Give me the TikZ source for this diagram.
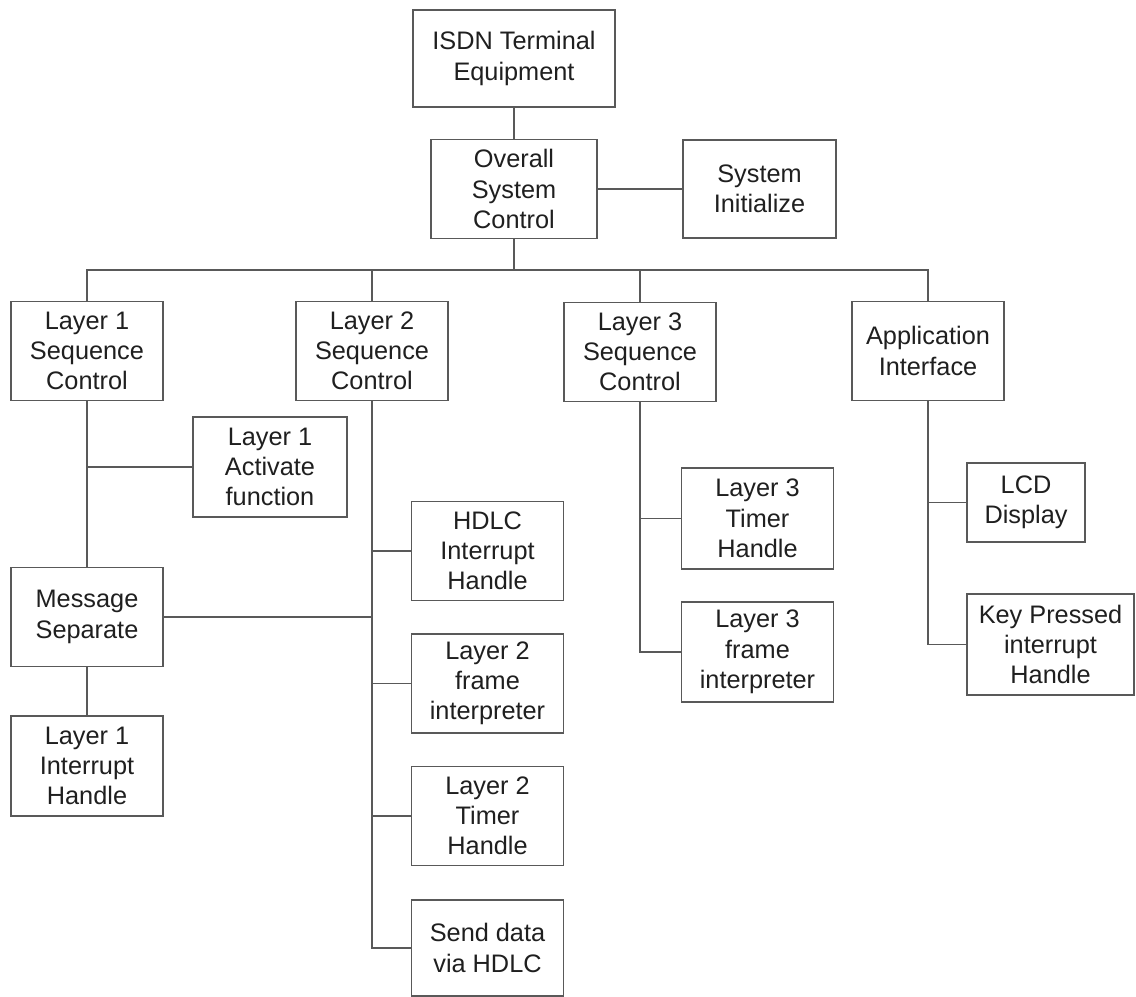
\documentclass[tikz,border=0pt]{standalone}
\usepackage{fontspec}
\setmainfont{Liberation Sans}
\usepackage{tikz}
\usetikzlibrary{positioning}

\tikzset{
  blk/.style={draw=black!65, line width=0.9pt, text=black!88, align=center,
    inner sep=0pt, minimum width=3.8cm, minimum height=2.48cm,
    font=\fontsize{18}{21.5}\selectfont},
  wire/.style={draw=black!65, line width=0.9pt}
}

\begin{document}
\begin{tikzpicture}[x=0.025cm, y=-0.025cm]
  \useasboundingbox (0,0) rectangle (1136,997);

  % top of the tree
  \node[blk, minimum width=5.05cm, minimum height=2.425cm] (isdn) at (514,58.5) {ISDN Terminal\\Equipment};
  \node[blk, minimum width=4.15cm] (overall) at (514,189) {Overall\\System\\Control};
  \node[blk, minimum width=3.825cm, minimum height=2.45cm] (sysinit) at (759.5,189) {System\\Initialize};
  \coordinate (bus) at (0,270);

  % sequence controls
  \node[blk] (l1seq) at (87,351) {Layer 1\\Sequence\\Control};
  \node[blk] (l2seq) at (372,351) {Layer 2\\Sequence\\Control};
  \node[blk] (l3seq) at (640,352) {Layer 3\\Sequence\\Control};
  \node[blk] (app) at (928,351) {Application\\Interface};

  % layer 1 branch
  \node[blk, minimum width=3.85cm, minimum height=2.5cm] (l1act) at (270,467) {Layer 1\\Activate\\function};
  \node[blk] (msgsep) at (87,617) {Message\\Separate};
  \node[blk, minimum height=2.5cm] (l1irq) at (87,766) {Layer 1\\Interrupt\\Handle};

  % layer 2 branch
  \node[blk] (hdlc) at (487.5,551) {HDLC\\Interrupt\\Handle};
  \node[blk] (l2frame) at (487.5,683.5) {Layer 2\\frame\\interpreter};
  \node[blk] (l2timer) at (487.5,816) {Layer 2\\Timer\\Handle};
  \node[blk, minimum height=2.4cm] (senddata) at (487.5,948) {Send data\\via HDLC};

  % layer 3 branch
  \node[blk, minimum height=2.525cm] (l3timer) at (757.5,518.5) {Layer 3\\Timer\\Handle};
  \node[blk, minimum height=2.5cm] (l3frame) at (757.5,652) {Layer 3\\frame\\interpreter};

  % application branch
  \node[blk, minimum width=2.95cm, minimum height=1.975cm] (lcd) at (1026,502.5) {LCD\\Display};
  \node[blk, minimum width=4.175cm, minimum height=2.525cm] (keyp) at (1050.5,644.5) {Key Pressed\\interrupt\\Handle};

  % connectors
  \draw[wire] (isdn) -- (overall);
  \draw[wire] (overall) -- (sysinit);
  \draw[wire] (overall.south) -- (overall.south |- bus);
  \draw[wire] (l1seq.north) -- (l1seq.north |- bus) -- (app.north |- bus) -- (app.north);
  \foreach \n in {l2seq,l3seq} {
    \draw[wire] (\n.north) -- (\n.north |- bus);
  }

  \draw[wire] (l1seq) -- (msgsep);
  \draw[wire] (msgsep) -- (l1irq);
  \draw[wire] (l1act.west) -- (l1act.west -| l1seq.south);
  \draw[wire] (msgsep.east) -- (msgsep.east -| l2seq.south);

  \draw[wire] (l2seq.south) |- (senddata.west);
  \foreach \n in {hdlc,l2frame,l2timer} {
    \draw[wire] (\n.west) -- (\n.west -| l2seq.south);
  }

  \draw[wire] (l3seq.south) |- (l3frame.west);
  \draw[wire] (l3timer.west) -- (l3timer.west -| l3seq.south);

  \draw[wire] (app.south) |- (keyp.west);
  \draw[wire] (lcd.west) -- (lcd.west -| app.south);
\end{tikzpicture}
\end{document}
